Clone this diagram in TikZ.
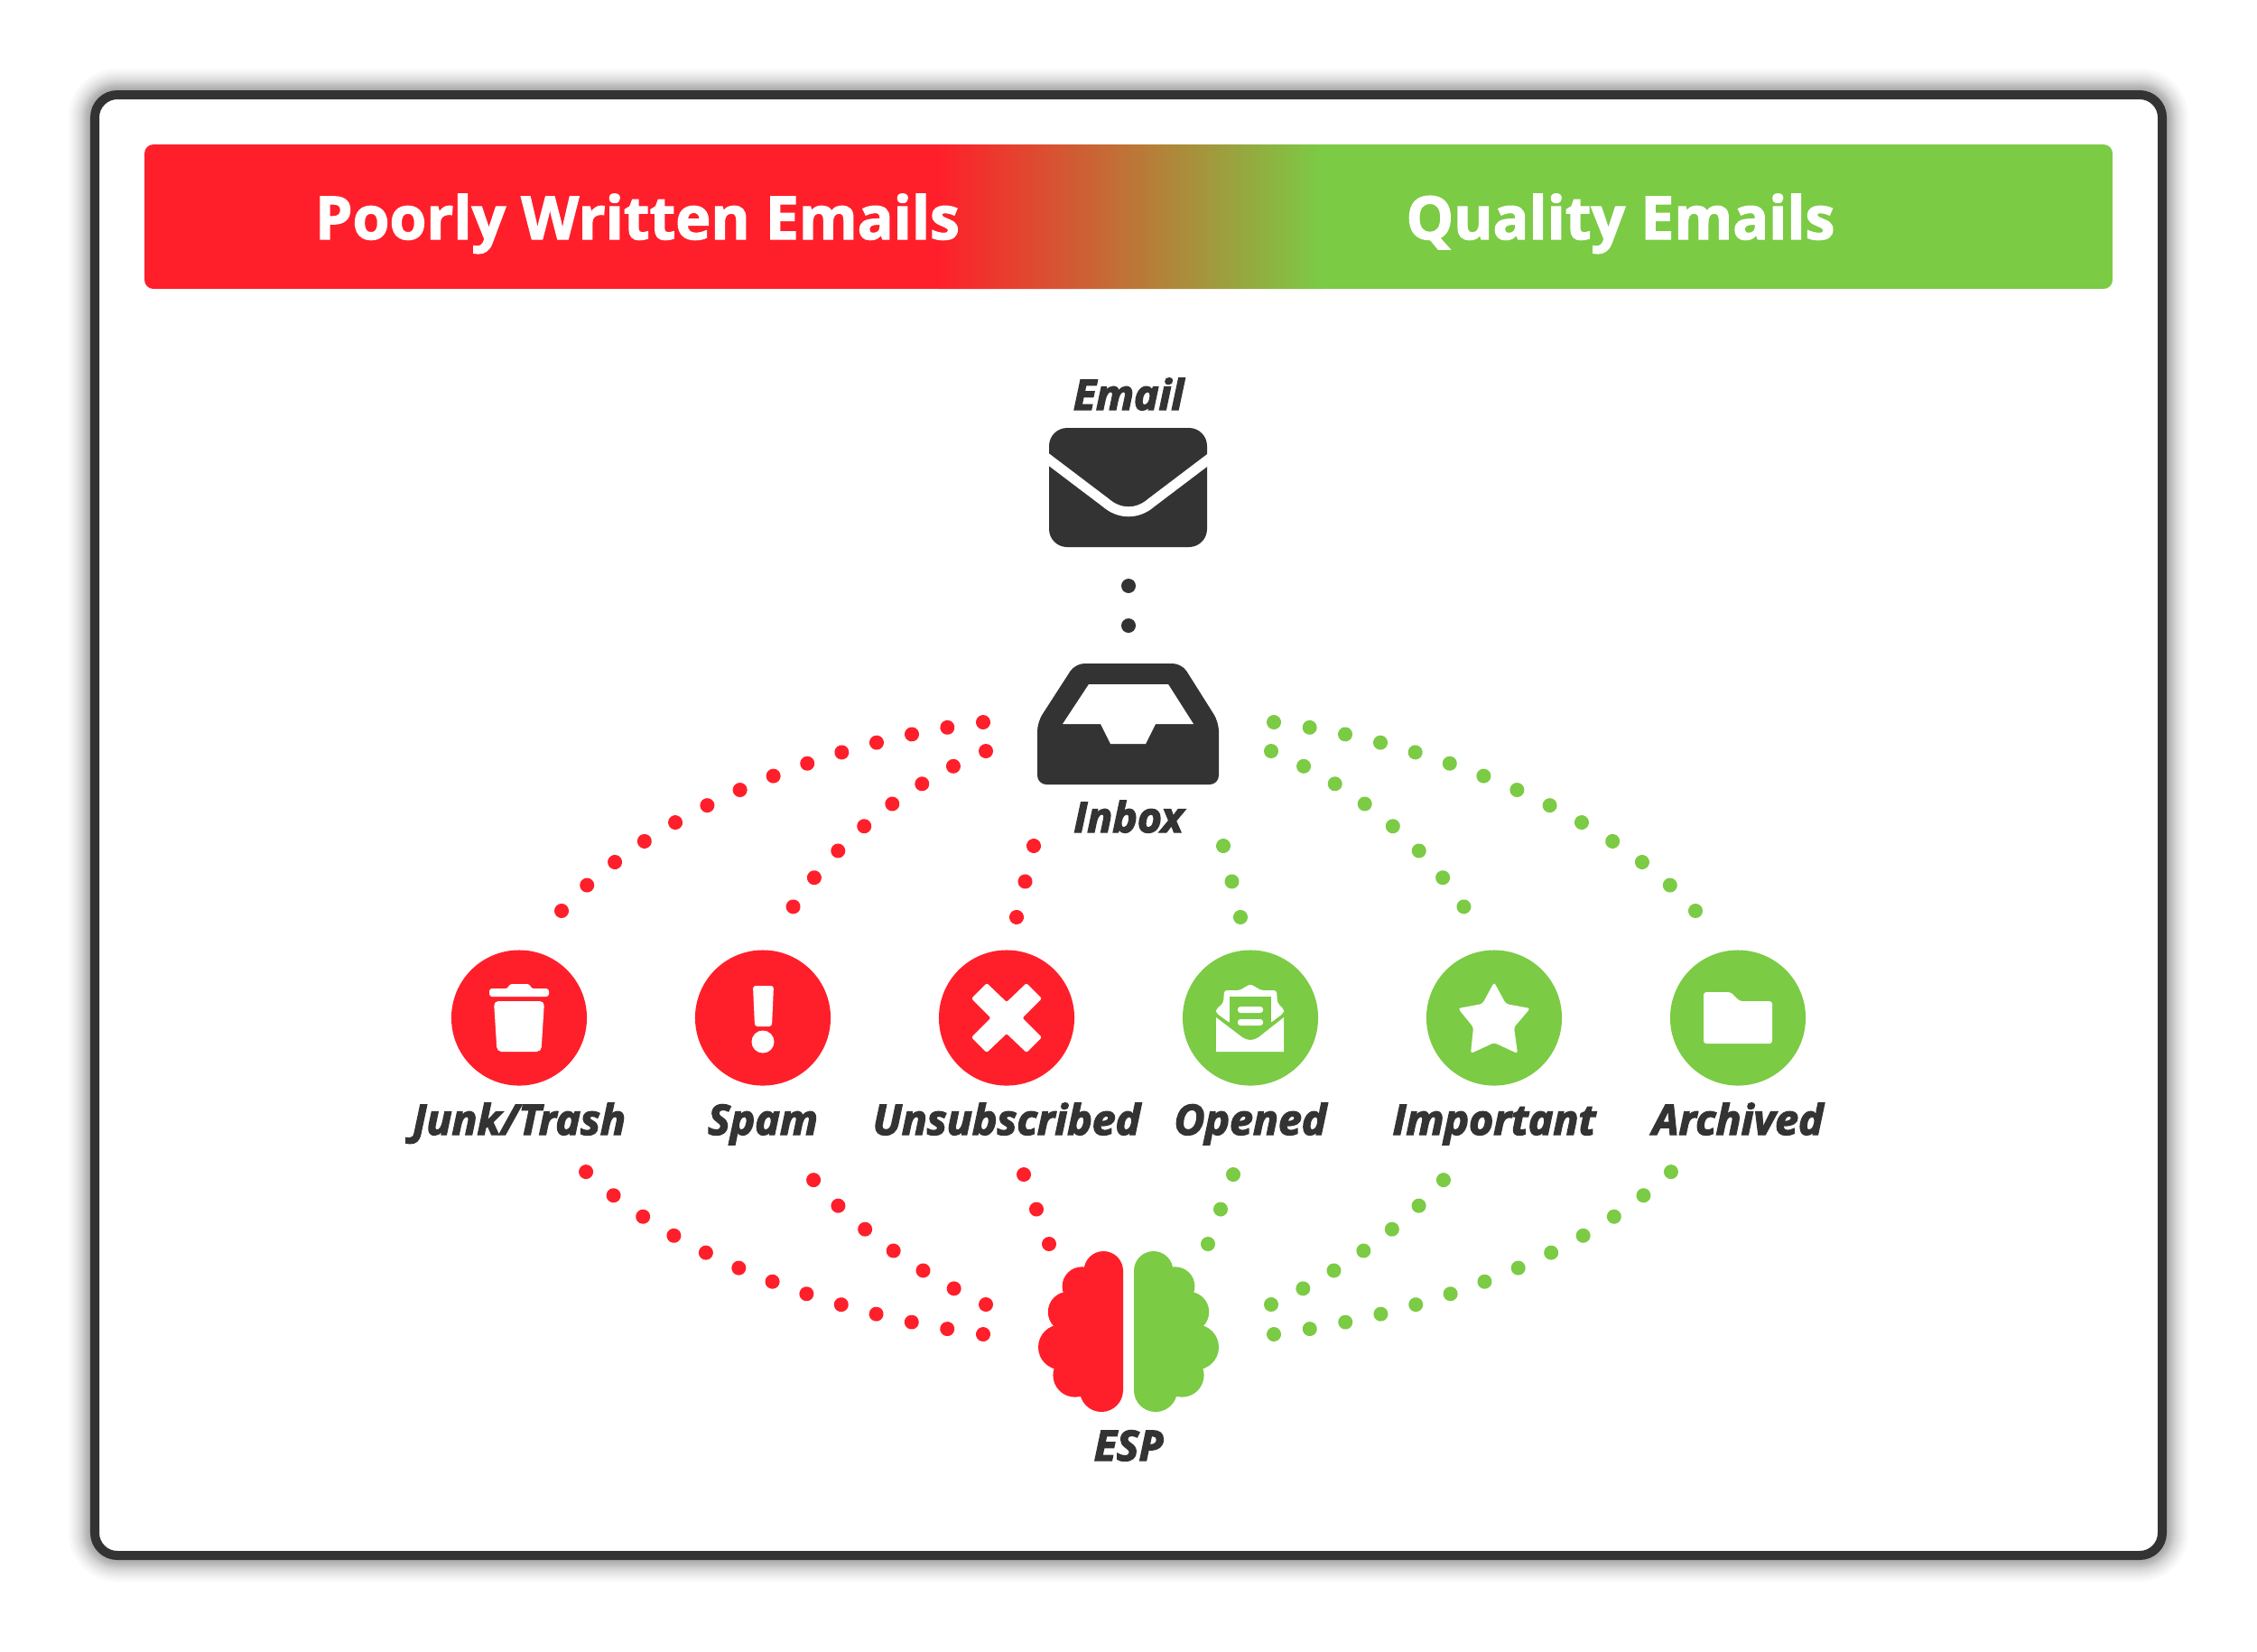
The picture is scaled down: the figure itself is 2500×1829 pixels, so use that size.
\documentclass[tikz,border=0pt]{standalone}
\usepackage{fontspec}
\setmainfont{Open Sans}
\newfontface\lblface{Open Sans Bold Italic}[FakeBold=3]
\newfontface\headface{Open Sans Bold}[FakeBold=2]
\usetikzlibrary{decorations.markings}

\definecolor{BrandRed}{RGB}{255,31,42}
\definecolor{BrandGreen}{RGB}{123,203,69}
\definecolor{InkGray}{RGB}{51,51,51}

\tikzset{
  dotrun/.style 2 args={decorate,decoration={markings,mark=between positions 0 and 1 step #2 with {\fill[#1] (0,0) circle (.08cm);}}},
  iconcirc/.style={circle,minimum size=1.5cm,inner sep=0pt},
  lbl/.style={text=InkGray,anchor=base,inner sep=0pt,font=\fontsize{13.2}{15}\selectfont\lblface},
  headlbl/.style={text=white,anchor=base,inner sep=0pt,font=\fontsize{18.8}{22}\selectfont\headface},
  whiteicon/.style={fill=white,rounded corners=.03cm},
}

\begin{document}
\begin{tikzpicture}[x=.01cm,y=-.01cm]
\useasboundingbox (0,0) rectangle (2500,1829);

% frame and its soft shadow
\foreach \w in {12,14,...,30,33,36,39,43,47,52,58}
  \draw[black,opacity=.022,line width=\w*.01cm,rounded corners=.25cm] (105,105) rectangle (2395,1723);
\draw[InkGray,fill=white,line width=.1cm,rounded corners=.25cm] (105,105) rectangle (2395,1723);

% header bar
\begin{scope}
\clip[rounded corners=.1cm] (160,160) rectangle (2340,320);
\fill[BrandRed] (160,160) rectangle (1041,320);
\shade[left color=BrandRed,right color=BrandGreen] (1040,160) rectangle (1465,320);
\fill[BrandGreen] (1464,160) rectangle (2340,320);
\end{scope}
\node[headlbl] (poor) at (706,265) {Poorly Written Emails};
\node[headlbl] (quality) at (1795,265) {Quality Emails};

% email
\node[lbl] (email) at (1250,454) {Email};
\fill[InkGray,rounded corners=.2cm] (1162,474) rectangle (1337,606);
\draw[white,line width=.11cm] (1155,504) -- (1225,557) .. controls (1240,570) and (1260,570) .. (1275,557) -- (1345,504);
\coordinate (ea) at (1250,649);
\coordinate (eb) at (1250,693);
\path[dotrun={InkGray}{.9999}] (ea) -- (eb);

% inbox
\fill[InkGray,rounded corners=.1cm] (1250,735) -- (1309,735) -- (1350,800) -- (1350,869) -- (1149,869) -- (1149,800) -- (1191,735) -- cycle;
\fill[white] (1206,758) -- (1294,758) -- (1322,802) -- (1280,802) -- (1269,824) -- (1230,824) -- (1219,802) -- (1177,802) -- cycle;
\node[lbl] (inbox) at (1250,922) {Inbox};

% status circles
\node[iconcirc,fill=BrandRed] (junk) at (575,1127.5) {};
\node[iconcirc,fill=BrandRed] (spam) at (845,1127.5) {};
\node[iconcirc,fill=BrandRed] (unsub) at (1115,1127.5) {};
\node[iconcirc,fill=BrandGreen] (opened) at (1385,1127.5) {};
\node[iconcirc,fill=BrandGreen] (important) at (1655,1127.5) {};
\node[iconcirc,fill=BrandGreen] (archived) at (1925,1127.5) {};

\node[lbl] (junklbl) at (575,1257) {Junk/Trash};
\node[lbl] (spamlbl) at (845,1257) {Spam};
\node[lbl] (unsublbl) at (1115,1257) {Unsubscribed};
\node[lbl] (openedlbl) at (1385,1257) {Opened};
\node[lbl] (importantlbl) at (1655,1257) {Important};
\node[lbl] (archivedlbl) at (1925,1257) {Archived};

% trash
\fill[whiteicon] (542,1095) -- (563,1095) -- (564,1090) -- (587,1090) -- (588,1095) -- (608,1095) -- (608,1104) -- (542,1104) -- cycle;
\fill[whiteicon,rounded corners=.05cm] (547,1109) -- (603,1109) -- (599.5,1165) -- (550.5,1165) -- cycle;
% exclamation mark
\fill[whiteicon] (834,1092) -- (857,1092) -- (855,1137) -- (836,1137) -- cycle;
\fill[white] (845,1154) circle (12.5);
% cross
\fill[whiteicon,rounded corners=.02cm] (1115,1110) -- (1137,1089) -- (1154,1106) -- (1132.5,1127.5) -- (1154,1149) -- (1137,1166) -- (1115,1145) -- (1093,1166) -- (1076,1149) -- (1097.5,1127.5) -- (1076,1106) -- (1093,1089) -- cycle;
% open envelope
\fill[whiteicon] (1385,1090) -- (1397,1097) -- (1414,1097) -- (1415,1111) -- (1422,1118) -- (1422,1122) -- (1407.5,1133) -- (1362,1133) -- (1347,1122) -- (1347,1118) -- (1355,1111) -- (1356,1097) -- (1373,1097) -- cycle;
\fill[BrandGreen] (1362,1104) rectangle (1407.5,1152);
\fill[whiteicon] (1371,1115) rectangle (1399,1122);
\fill[whiteicon] (1371,1129) rectangle (1399,1136);
\fill[white] (1347,1127) -- (1376,1149) .. controls (1382,1153) and (1388,1153) .. (1394,1149) -- (1422,1127) -- (1422,1165) -- (1347,1165) -- cycle;
% star
\fill[whiteicon,rounded corners=.03cm] (1655,1088) -- (1668,1112) -- (1695,1117) -- (1677,1138) -- (1681,1167) -- (1655,1155) -- (1629,1167) -- (1632,1138) -- (1615,1117) -- (1642,1112) -- cycle;
% folder
\fill[whiteicon] (1887,1099) -- (1917,1099) -- (1927,1109) -- (1963,1109) -- (1963,1156) -- (1887,1156) -- cycle;

% brain halves and the dotted runs, left side then mirrored
\node[lbl] (esp) at (1250,1618) {ESP};
\foreach \s/\sgn/\clr in {L/1/BrandRed,R/-1/BrandGreen}{
\begin{scope}[shift={(1250,0)},xscale=\sgn]
  \foreach \cx/\cy/\r in {-27.7/1407.7/21.7,-51.7/1425/21.7,-66.7/1453.3/22.5,-75/1492.3/25,-59.3/1523.3/24.3,-30/1540/24}
    \fill[\clr] (\cx,\cy) circle (\r);
  \fill[\clr] (-27.7,1386) -- (-6,1407) -- (-6,1540) -- (-30,1564) -- (-59.3,1523.3) -- (-75,1492.3) -- (-66.7,1453.3) -- (-51.7,1425) -- cycle;

  \coordinate (\s oa) at (-161,800);
  \coordinate (\s ob) at (-628,1009);
  \coordinate (\s sa) at (-158,832);
  \coordinate (\s sb) at (-371.5,1004.5);
  \coordinate (\s ua) at (-105,937);
  \coordinate (\s ub) at (-124,1016);
  \coordinate (\s la) at (-161,1478);
  \coordinate (\s lb) at (-601,1298);
  \coordinate (\s ma) at (-158,1445);
  \coordinate (\s mb) at (-349,1307);
  \coordinate (\s ba) at (-88,1378);
  \coordinate (\s bb) at (-116,1301);

  \path[dotrun={\clr}{.0769}] (\s oa) .. controls (-333,821) and (-532.5,901) .. (\s ob);
  \path[dotrun={\clr}{.1428}] (\s sa) .. controls (-242,867) and (-322,928) .. (\s sb);
  \path[dotrun={\clr}{.4999}] (\s ua) -- (\s ub);
  \path[dotrun={\clr}{.0833}] (\s la) .. controls (-309,1459) and (-493,1400) .. (\s lb);
  \path[dotrun={\clr}{.1666}] (\s ma) .. controls (-222,1416) and (-301,1363) .. (\s mb);
  \path[dotrun={\clr}{.4999}] (\s ba) -- (\s bb);
\end{scope}
}
\end{tikzpicture}
\end{document}
